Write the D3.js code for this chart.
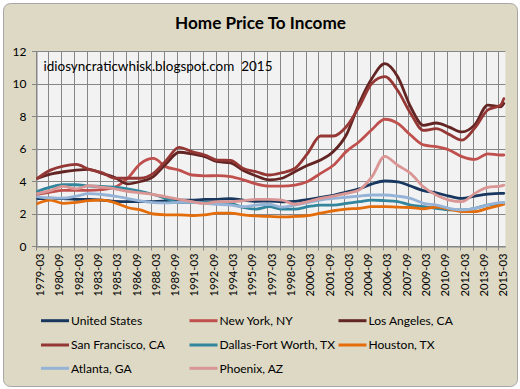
<!DOCTYPE html>
<html><head><meta charset="utf-8">
<script src="https://cdn.jsdelivr.net/npm/d3@7/dist/d3.min.js"></script>
<style>
body{margin:0;background:#fff}
svg{display:block}
text{font-family:Lato,"Open Sans",sans-serif;fill:#000}
</style></head>
<body><svg id="chart" width="520" height="389"></svg>
<script>
// ---------- DATA ----------
const titleText = "Home Price To Income";
const noteText = "idiosyncraticwhisk.blogspot.com\u00a0\u00a02015";
const yTicks = [0, 2, 4, 6, 8, 10, 12];

// quarterly category axis 1979-03 .. 2015-06
const categories = [];
for (let yr = 1979; yr <= 2015; yr++) {
  for (const m of ["03", "06", "09", "12"]) {
    const c = yr + "-" + m;
    if (c <= "2015-06") categories.push(c);
  }
}
const sampleDates = ["1979-03","1980-03","1981-03","1982-03","1983-03","1984-03","1985-03","1986-03","1987-03","1988-03",
  "1989-03","1990-03","1991-03","1992-03","1993-03","1994-03","1995-03","1996-03","1997-03","1998-03",
  "1999-03","2000-03","2001-03","2002-03","2003-03","2004-03","2005-03","2006-03","2007-03","2008-03",
  "2009-03","2010-03","2011-03","2012-03","2013-03","2014-03","2015-03","2015-06"];

const unitedStates = [2.95,2.97,2.95,2.9,2.9,2.85,2.78,2.76,2.76,2.76,2.8,2.85,2.85,2.9,2.9,2.95,2.85,2.78,2.8,2.75,2.78,2.88,3.02,3.15,3.35,3.55,3.85,4.03,3.98,3.72,3.44,3.3,3.1,2.96,3.1,3.22,3.27,3.27];
const newYork = [3.2,3.35,3.45,3.45,3.45,3.5,3.65,4.2,5.1,5.42,4.9,4.7,4.4,4.35,4.36,4.3,4.1,3.85,3.72,3.72,3.78,4.0,4.5,5.0,5.84,6.45,7.2,7.83,7.58,6.86,6.25,6.14,5.94,5.53,5.36,5.7,5.63,5.63];
const losAngeles = [4.2,4.45,4.6,4.7,4.75,4.5,4.25,3.85,4.0,4.3,5.1,5.8,5.7,5.53,5.22,5.15,4.67,4.34,4.1,4.2,4.6,5.0,5.32,5.84,6.86,8.8,10.35,11.25,10.45,8.6,7.45,7.6,7.35,7.05,7.5,8.7,8.6,8.8];
const sanFrancisco = [4.2,4.7,4.95,5.05,4.75,4.55,4.2,4.2,4.2,4.5,5.3,6.1,5.84,5.63,5.32,5.3,4.8,4.6,4.4,4.54,4.8,5.73,6.8,6.8,7.37,8.6,10.05,10.45,9.6,8.2,7.15,7.25,6.9,6.55,7.3,8.4,8.7,9.1];
const dallas = [3.4,3.65,3.8,3.8,3.72,3.7,3.65,3.55,3.4,3.2,2.95,2.7,2.7,2.72,2.7,2.65,2.4,2.3,2.45,2.3,2.3,2.45,2.55,2.55,2.65,2.76,2.86,2.82,2.76,2.55,2.45,2.35,2.25,2.25,2.35,2.55,2.65,2.68];
const houston = [2.65,2.85,2.65,2.72,2.82,2.85,2.7,2.4,2.25,2.0,1.95,1.95,1.9,1.95,2.05,2.05,1.95,1.88,1.85,1.82,1.85,1.9,2.05,2.2,2.3,2.35,2.45,2.45,2.42,2.4,2.32,2.42,2.3,2.15,2.15,2.35,2.55,2.6];
const atlanta = [3.05,2.98,2.98,3.1,3.25,3.2,3.1,2.95,2.8,2.7,2.68,2.72,2.72,2.65,2.6,2.55,2.45,2.55,2.6,2.42,2.55,2.7,2.86,2.96,3.03,3.1,3.17,3.17,3.1,2.96,2.66,2.55,2.35,2.25,2.35,2.55,2.7,2.7];
const phoenix = [3.25,3.45,3.7,3.55,3.75,3.65,3.55,3.4,3.3,3.2,3.06,2.9,2.76,2.65,2.76,2.76,2.82,2.9,2.9,2.86,2.6,2.76,2.96,3.1,3.27,3.48,4.3,5.55,5.0,4.5,3.68,3.17,2.86,2.76,3.27,3.64,3.72,3.78];

const seriesNames = ["United States","New York, NY","Los Angeles, CA","San Francisco, CA","Dallas-Fort Worth, TX","Houston, TX","Atlanta, GA","Phoenix, AZ"];
const seriesValues = [unitedStates,newYork,losAngeles,sanFrancisco,dallas,houston,atlanta,phoenix];
const seriesColors = ["#17375E","#C0504D","#632523","#953735","#31859C","#E46C0A","#95B3D7","#D99694"];

// ---------- LAYOUT ----------
const svg = d3.select("#chart");
const L = 36, R = 505.4, T = 51.5, B = 246.5;
const gridColor = "#868686";

function fitWidth(sel, target) {
  const n = sel.node();
  const fs = parseFloat(sel.attr("font-size"));
  const w = n.getComputedTextLength();
  if (w > 0) sel.attr("font-size", (fs * target / w).toFixed(2));
}

// chart area background
svg.append("rect").attr("x", 3.5).attr("y", 3.5).attr("width", 514).attr("height", 383)
  .attr("rx", 7).attr("fill", "#DDD9C4").attr("stroke", "#A6A6A6").attr("stroke-width", 1);

const x = d3.scaleBand().domain(categories).range([L, R]).padding(0);
const bw = x.bandwidth();
const y = d3.scaleLinear().domain([0, 12]).range([B, T]);
const px = d => x(d) + bw / 2;
const crisp = v => Math.round(v - 0.5) + 0.5;

// plot area
svg.append("rect").attr("x", L).attr("y", T).attr("width", R - L).attr("height", B - T).attr("fill", "#F2F2F2");

// grid
const gridBoundaries = categories.filter((c, i) => i % 4 === 0);
svg.append("g").selectAll("line").data(gridBoundaries).join("line")
  .attr("x1", d => crisp(x(d))).attr("x2", d => crisp(x(d)))
  .attr("y1", T).attr("y2", B + 4)
  .attr("stroke", gridColor).attr("stroke-width", 1);
svg.append("g").selectAll("line").data(yTicks).join("line")
  .attr("x1", L - 4).attr("x2", R).attr("y1", d => crisp(y(d))).attr("y2", d => crisp(y(d)))
  .attr("stroke", gridColor).attr("stroke-width", 1);

// y axis
const yAxis = svg.append("g").attr("transform", `translate(${crisp(L)},0)`)
  .call(d3.axisLeft(y).tickValues(yTicks).tickSize(0).tickPadding(10).tickFormat(d3.format("d")));
yAxis.select(".domain").attr("stroke", gridColor);
yAxis.selectAll("text").attr("font-size", 12).attr("font-family", "Lato").attr("fill", "#000");

// x axis labels (every 6 quarters)
const labelCats = categories.filter((c, i) => i % 6 === 0);
const xAxis = svg.append("g").attr("transform", `translate(0,${crisp(B)})`)
  .call(d3.axisBottom(x).tickValues(labelCats).tickSize(0).tickPadding(0));
xAxis.select(".domain").attr("stroke", gridColor);
xAxis.selectAll("text")
  .attr("font-size", 11.2).attr("font-family", "Lato").attr("fill", "#000")
  .attr("text-anchor", "end")
  .attr("transform", "translate(2.5,7) rotate(-90)")
  .attr("x", 0).attr("y", 0).attr("dy", "0.36em");

// lines
const line = d3.line().x((d, i) => px(sampleDates[i])).y(d => y(d)).curve(d3.curveMonotoneX);
svg.append("g").selectAll("path").data(seriesValues).join("path")
  .attr("d", d => line(d)).attr("fill", "none")
  .attr("stroke", (d, i) => seriesColors[i]).attr("stroke-width", 2.8)
  .attr("stroke-linejoin", "round").attr("stroke-linecap", "round");

// title
const title = svg.append("text").attr("x", 260.5).attr("y", 29).attr("text-anchor", "middle")
  .attr("font-size", 16).attr("font-weight", "bold").text(titleText);
fitWidth(title, 171);

// note
const note = svg.append("text").attr("x", 43.5).attr("y", 71).attr("font-size", 13).text(noteText);
fitWidth(note, 229);

// legend
const legCols = [41, 189.5, 338.5];
const legRows = [320.7, 345, 368.3];
const leg = svg.append("g");
seriesNames.forEach((name, i) => {
  const cx = legCols[i % 3], cy = legRows[Math.floor(i / 3)];
  leg.append("line").attr("x1", cx).attr("x2", cx + 28).attr("y1", cy).attr("y2", cy)
    .attr("stroke", seriesColors[i]).attr("stroke-width", 3);
  leg.append("text").attr("class", "lt").attr("x", cx + 30).attr("y", cy).attr("dy", "0.35em")
    .attr("font-size", 12).text(name);
});
// size legend font so the longest label matches the reference width
const probe = leg.selectAll("text.lt").filter(function () { return d3.select(this).text() === "Dallas-Fort Worth, TX"; });
const pw = probe.node().getComputedTextLength();
leg.selectAll("text.lt").attr("font-size", (12 * 115.7 / pw).toFixed(2));
</script></body></html>
